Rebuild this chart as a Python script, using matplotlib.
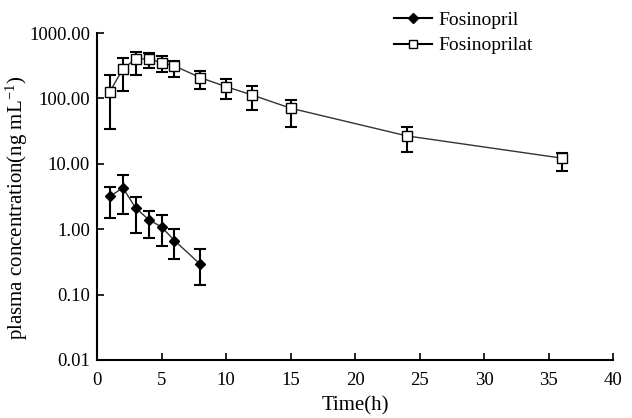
import matplotlib
matplotlib.use("Agg")
import matplotlib.pyplot as plt
import numpy as np
from matplotlib.ticker import FixedLocator, FixedFormatter

plt.rcParams['font.family'] = ['Liberation Serif', 'DejaVu Serif']
plt.rcParams['mathtext.fontset'] = 'custom'
plt.rcParams['mathtext.rm'] = 'Liberation Serif'
plt.rcParams['mathtext.it'] = 'Liberation Serif:italic'
plt.rcParams['mathtext.bf'] = 'Liberation Serif:bold'

# Fosinopril
t_pril = [1, 2, 3, 4, 5, 6, 8]
pril_mean = [3.16, 4.29, 2.10, 1.40, 1.08, 0.67, 0.29]
pril_lo = [1.50, 1.72, 0.88, 0.73, 0.55, 0.355, 0.139]
pril_hi = [4.49, 6.77, 3.10, 1.89, 1.62, 1.00, 0.49]

# Fosinoprilat
t_prilat = [1, 2, 3, 4, 5, 6, 8, 10, 12, 15, 24, 36]
prilat_mean = [127, 282, 402, 402, 353, 314, 208, 151, 113, 70.8, 26.7, 12.2]
prilat_lo = [33.8, 132, 229, 290, 257, 215, 140, 98, 67, 37, 15.2, 7.8]
prilat_hi = [229, 412, 520, 491, 447, 379, 266, 197, 155, 94.8, 37, 14.8]

yticks = [0.01, 0.1, 1, 10, 100, 1000]
ytick_labels = ["0.01", "0.10", "1.00", "10.00", "100.00", "1000.00"]
xticks = [0, 5, 10, 15, 20, 25, 30, 35, 40]

fig = plt.figure(figsize=(6.32, 4.18), dpi=100)
ax = fig.add_axes([0.1535, 0.139, 0.817, 0.782])

def err(mean, lo, hi):
    m = np.array(mean); return [m - np.array(lo), np.array(hi) - m]

ax.plot(t_pril, pril_mean, color='#333333', lw=1.0, zorder=2)
ax.errorbar(t_pril, pril_mean, yerr=err(pril_mean, pril_lo, pril_hi), fmt='none',
            ecolor='black', elinewidth=1.5, capsize=4, capthick=1.5, zorder=3)
ax.plot(t_pril, pril_mean, linestyle='none', marker='D', markersize=5.5,
        color='black', zorder=4)

ax.plot(t_prilat, prilat_mean, color='#333333', lw=1.0, zorder=2)
ax.errorbar(t_prilat, prilat_mean, yerr=err(prilat_mean, prilat_lo, prilat_hi), fmt='none',
            ecolor='black', elinewidth=1.5, capsize=4, capthick=1.5, zorder=3)
ax.plot(t_prilat, prilat_mean, linestyle='none', marker='s', markersize=6.5,
        markerfacecolor='white', markeredgecolor='black', markeredgewidth=1.0, zorder=4)

h1, = ax.plot([], [], color='black', lw=1.5, marker='D', markersize=5, label='Fosinopril')
h2, = ax.plot([], [], color='black', lw=1.5, marker='s', markersize=6,
              markerfacecolor='white', markeredgecolor='black', label='Fosinoprilat')

ax.set_yscale('log')
ax.set_ylim(0.01, 1000)
ax.set_xlim(0, 40)
ax.yaxis.set_major_locator(FixedLocator(yticks))
ax.yaxis.set_major_formatter(FixedFormatter(ytick_labels))
ax.yaxis.set_minor_locator(FixedLocator([]))
ax.set_xticks(xticks)
ax.tick_params(direction='in', length=5, width=1.2, labelsize=13.5, colors='black')
ax.tick_params(axis='x', pad=9)
ax.tick_params(axis='y', pad=5)
for s in ['top', 'right']:
    ax.spines[s].set_visible(False)
for s in ['left', 'bottom']:
    ax.spines[s].set_linewidth(1.5)

ax.set_xlabel('Time(h)', fontsize=15, labelpad=5)
ax.set_ylabel(r'plasma concentration(ng mL$^{\mathrm{-1}}$)', fontsize=15)
ax.yaxis.set_label_coords(-0.13, 0.465)

leg = ax.legend(handles=[h1, h2], loc='upper left', bbox_to_anchor=(0.548, 1.108),
                frameon=False, fontsize=14, handlelength=2.0, handletextpad=0.3,
                labelspacing=0.4, borderpad=0.2)

fig.savefig('out.png', dpi=100)
